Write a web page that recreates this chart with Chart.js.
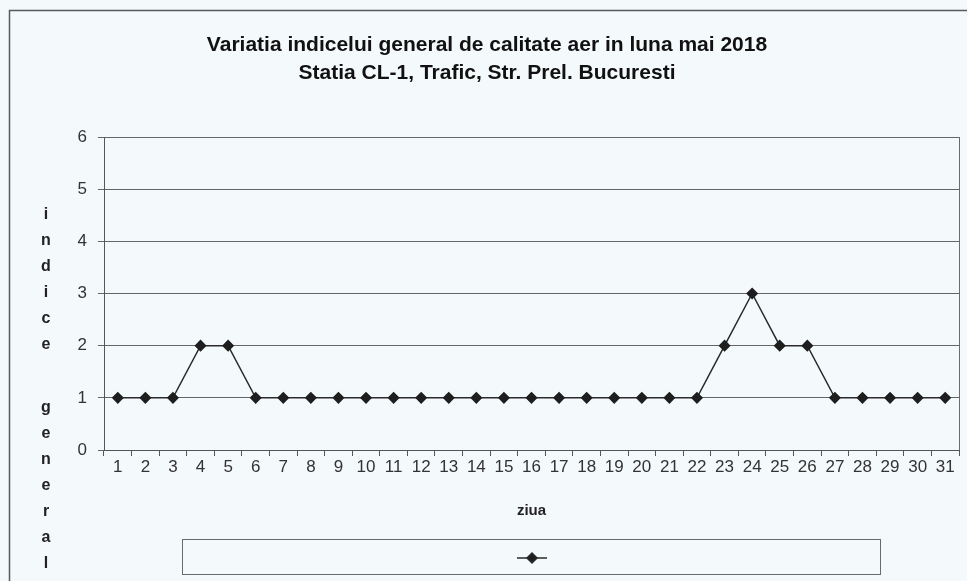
<!DOCTYPE html>
<html>
<head>
<meta charset="utf-8">
<script src="https://cdn.jsdelivr.net/npm/chart.js@4"></script>
<style>
  html, body { margin: 0; padding: 0; background: #f4f9fb; }
  #wrap { position: relative; width: 967px; height: 581px; }
</style>
</head>
<body>
<div id="wrap"><canvas id="c" width="967" height="581"></canvas></div>
<script>
const days = ['1','2','3','4','5','6','7','8','9','10','11','12','13','14','15','16','17','18','19','20','21','22','23','24','25','26','27','28','29','30','31'];
const indiceGeneral = [1,1,1,2,2,1,1,1,1,1,1,1,1,1,1,1,1,1,1,1,1,1,2,3,2,2,1,1,1,1,1];
const yTicks = [0,1,2,3,4,5,6];
const titleLines = ['Variatia indicelui general de calitate aer in luna mai 2018', 'Statia CL-1, Trafic, Str. Prel. Bucuresti'];
const xTitle = 'ziua';
const yTitle = 'indice general';

const FONT = "'Liberation Sans', Arial, sans-serif";

const decor = {
  id: 'decor',
  beforeDraw(chart) {
    const ctx = chart.ctx;
    ctx.save();
    ctx.fillStyle = '#f4f9fb';
    ctx.fillRect(0, 0, chart.width, chart.height);
    ctx.strokeStyle = '#5a5a5a';
    ctx.lineWidth = 1.5;
    ctx.beginPath();
    ctx.moveTo(chart.width + 2, 10.5);
    ctx.lineTo(9.5, 10.5);
    ctx.lineTo(9.5, chart.height + 2);
    ctx.stroke();
    ctx.restore();
  },
  beforeDatasetsDraw(chart) {
    const {ctx, chartArea: a} = chart;
    ctx.save();
    ctx.strokeStyle = '#6a6a6a';
    ctx.lineWidth = 1;
    ctx.beginPath();
    ctx.moveTo(Math.round(a.right) + 0.5, a.top);
    ctx.lineTo(Math.round(a.right) + 0.5, a.bottom);
    ctx.stroke();
    ctx.restore();
  },
  afterDraw(chart) {
    const ctx = chart.ctx;
    ctx.save();
    ctx.fillStyle = '#222';
    ctx.font = 'bold 16px ' + FONT;
    ctx.textAlign = 'center';
    ctx.textBaseline = 'middle';
    let y = 215;
    for (const ch of yTitle) {
      if (ch === ' ') { y += 37; continue; }
      ctx.fillText(ch, 46, y);
      y += 26;
    }
    const bx = 182, by = 539.5, bw = 698, bh = 35;
    ctx.strokeStyle = '#6a6a6a';
    ctx.lineWidth = 1;
    ctx.strokeRect(bx + 0.5, by, bw, bh);
    const ds = chart.data.datasets[0];
    const cx = 532, cy = 558;
    ctx.strokeStyle = ds.borderColor;
    ctx.lineWidth = ds.borderWidth;
    ctx.beginPath();
    ctx.moveTo(cx - 15, cy);
    ctx.lineTo(cx + 15, cy);
    ctx.stroke();
    ctx.fillStyle = ds.pointBackgroundColor;
    Chart.helpers.drawPoint(ctx, {pointStyle: 'rectRot', radius: ds.pointRadius, borderWidth: 1, rotation: 0}, cx, cy);
    ctx.restore();
  }
};

new Chart(document.getElementById('c'), {
  type: 'line',
  data: {
    labels: days,
    datasets: [{
      label: '',
      data: indiceGeneral,
      borderColor: '#2a2a2a',
      borderWidth: 1.5,
      pointStyle: 'rectRot',
      pointRadius: 5,
      pointBackgroundColor: '#1e1e1e',
      pointBorderColor: '#1e1e1e',
      tension: 0
    }]
  },
  options: {
    responsive: false,
    animation: false,
    devicePixelRatio: 1,
    layout: { padding: { left: 15, right: 8, top: 0, bottom: 61 } },
    plugins: {
      legend: { display: false },
      tooltip: { enabled: false },
      title: {
        display: true,
        text: titleLines,
        color: '#111',
        font: { family: FONT, size: 21, weight: 'bold', lineHeight: 28 / 21 },
        padding: { top: 31, bottom: 50 }
      }
    },
    scales: {
      x: {
        type: 'category',
        offset: true,
        afterFit(s) { s.height = 70; },
        grid: { display: true, drawOnChartArea: false, drawTicks: true, offset: true, tickLength: 6, color: '#555', lineWidth: 1 },
        border: { display: true, color: '#555', width: 1 },
        ticks: { color: '#333', font: { family: FONT, size: 17 }, padding: 1, maxRotation: 0, autoSkip: false },
        title: { display: true, text: xTitle, color: '#222', font: { family: FONT, size: 15, weight: 'bold' }, padding: { top: 0, bottom: 0 } }
      },
      y: {
        min: 0,
        max: 6,
        afterFit(s) { s.width = 89; },
        afterBuildTicks(s) { s.ticks = yTicks.map(v => ({ value: v })); },
        grid: { color: '#666', lineWidth: 1, drawTicks: true, tickLength: 6 },
        border: { display: true, color: '#555', width: 1 },
        ticks: { color: '#333', font: { family: FONT, size: 17 }, padding: 11 }
      }
    }
  },
  plugins: [decor]
});
</script>
</body>
</html>
